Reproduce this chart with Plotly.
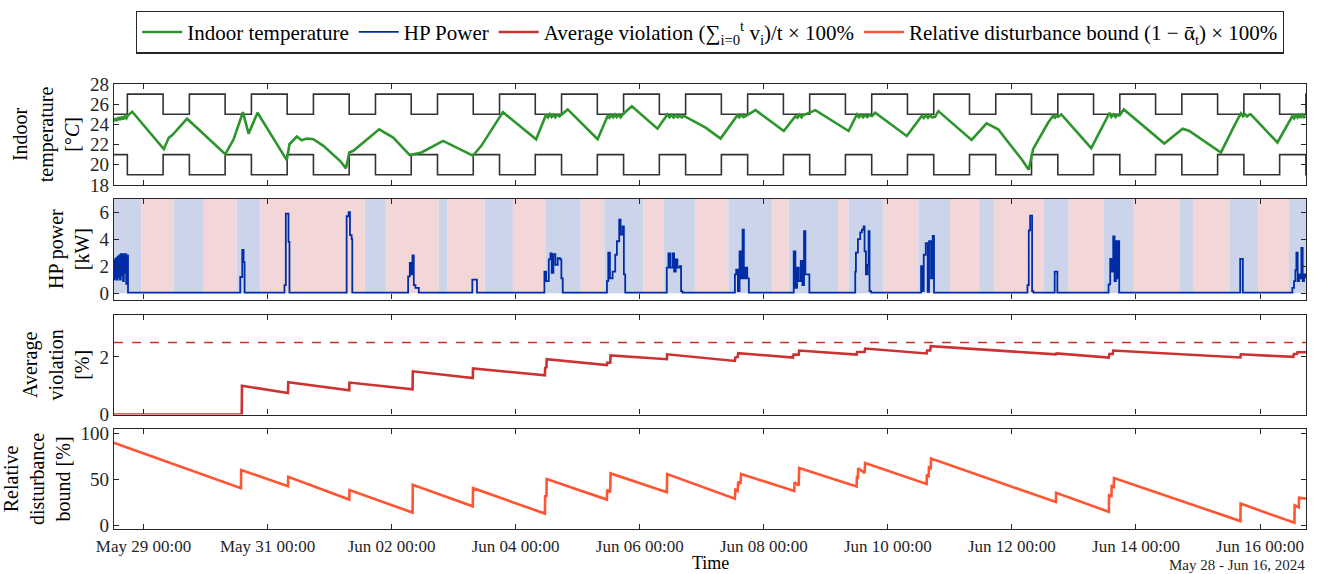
import pandas as pd
import plotly.graph_objects as go
from plotly.subplots import make_subplots

BASE = pd.Timestamp("2024-05-29 00:00")
X_START = "2024-05-28 12:35"
X_END = "2024-06-16 17:47"

# ---------------- Indoor temperature (hours since May 29 00:00, degC) -------------
temp_hours = [-11.4, -10.8, -10.2, -9.6, -9.0, -8.4, -7.8, -7.2, -6.6, -6.0, -4.36, 7.86, 9.79, 11.07, 16.86,
              31.65, 34.87, 38.47, 40.65, 44.12, 55.44, 56.47, 59.30, 61.23, 63.16, 65.73,
              69.59, 76.02, 78.34, 79.62, 81.17, 91.20, 96.60, 103.03, 107.54, 115.90,
              122.33, 127.47, 130.69, 139.05, 151.91, 155.77, 156.5, 157.2, 157.9, 158.6, 159.3,
              160.0, 160.9, 164.13, 175.70, 179.56, 180.3, 181.0, 181.7, 182.4, 183.1, 183.8,
              184.6, 185.35, 188.95, 198.86, 202.71, 203.5, 204.3, 205.1, 205.9, 206.7, 207.5,
              208.3, 209.0, 209.79, 217.5, 223.29, 229.72, 230.5, 231.3, 232.1, 232.94, 236.8,
              247.73, 252.23, 253.0, 253.8, 254.6, 255.3, 256.09, 259.95, 272.81, 276.03,
              276.8, 277.6, 278.4, 279.2, 280.0, 280.8, 281.82, 283.1, 295.32, 301.11, 301.9,
              302.7, 303.5, 304.3, 305.1, 306.25, 307.54, 320.40, 326.19, 330.69, 335.19,
              339.69, 342.52, 344.19, 349.98, 351.91, 352.6, 353.2, 353.84, 355.12, 366.70,
              370.56, 373.77, 374.5, 375.3, 376.1, 376.9, 377.63, 379.30, 394.95, 402.07,
              404.64, 416.86, 422.0, 424.58, 425.4, 426.2, 427.0, 427.7, 428.44, 438.72,
              444.51, 445.2, 445.9, 446.5, 447.08, 447.7, 448.3, 449.0, 449.65]
temp_values = [24.3, 24.6, 24.35, 24.7, 24.45, 24.75, 24.5, 24.8, 24.6, 24.9, 25.25, 21.54, 22.69, 22.92, 24.56,
               21.05, 22.52, 25.21, 23.08, 25.15, 20.46, 22.03, 22.79, 22.43, 22.59, 22.52,
               21.87, 20.39, 19.64, 21.21, 21.38, 23.51, 22.69, 20.95, 21.21, 22.36,
               21.54, 20.89, 21.87, 25.21, 22.52, 24.98, 24.7, 25.0, 24.72, 24.95, 24.7,
               24.95, 24.8, 25.48, 22.52, 24.82, 24.65, 24.95, 24.7, 24.98, 24.72, 24.95,
               24.7, 24.98, 25.80, 23.57, 24.98, 24.7, 24.92, 24.68, 24.9, 24.7, 24.88,
               24.68, 24.85, 24.75, 23.67, 22.59, 24.89, 24.7, 24.95, 24.72, 24.82, 25.41,
               23.34, 24.82, 24.65, 24.95, 24.7, 24.95, 24.98, 25.41, 23.34, 24.98,
               24.72, 24.95, 24.7, 24.92, 24.72, 24.9, 24.82, 25.15, 22.85, 24.82, 24.62,
               24.92, 24.65, 24.9, 24.7, 24.75, 25.31, 22.46, 24.10, 23.51, 22.03,
               20.56, 19.51, 21.54, 24.16, 24.82, 24.65, 24.9, 24.75, 24.98, 21.64,
               23.51, 25.15, 24.75, 24.98, 24.72, 24.95, 24.89, 25.48, 22.10, 23.57,
               23.34, 21.21, 23.84, 25.08, 24.8, 25.0, 24.78, 24.95, 24.98, 22.20,
               24.82, 24.6, 24.95, 24.68, 24.92, 24.65, 24.95, 24.7, 24.82]

# Comfort bounds schedule (wide band at night)
wide_start_time = "17:45"
wide_end_time = "07:35"
upper_narrow, upper_wide = 25, 27
lower_narrow, lower_wide = 21, 19

# ---------------- HP power (hours since May 29 00:00, kW) -------------
power_hours = [-11.4, -11.2, -10.9, -10.6, -10.3, -10.0, -9.7, -9.4, -9.1, -8.8, -8.5, -8.2, -7.9, -7.6, -7.3,
               -7.0, -6.7, -6.4, -6.1, -6.0,
               37.18, 37.44, 38.21, 38.72, 39.11,
               54.29, 54.54, 55.06, 55.57, 56.09, 56.47,
               78.34, 78.60, 79.37, 79.88, 80.53, 80.78,
               102.0, 102.39, 103.04, 103.42, 104.07, 104.58, 105.22, 105.99, 106.51,
               126.83, 127.22, 128.24, 129.02,
               154.74, 155.12, 155.77, 156.80, 157.44, 157.95, 158.59, 159.37, 160.27, 161.17, 161.68, 162.2,
               178.92, 179.31, 179.82, 180.46, 181.49, 182.52, 183.16, 184.06, 184.58, 185.35, 185.86, 186.38,
               202.07, 202.46, 203.1, 203.74, 204.64, 205.29, 205.93, 206.57, 207.47, 207.99, 208.5,
               228.43, 228.82, 229.33, 229.98, 230.62, 231.13, 231.78, 232.29, 232.94, 233.58, 234.22,
               251.2, 251.58, 252.23, 252.87, 253.51, 254.29, 254.93, 255.57, 256.09, 257.12, 257.63,
               275.0, 275.38, 275.64, 276.41, 277.31, 277.95, 278.6, 278.98, 279.5, 280.14, 280.53, 280.91, 281.55,
               300.46, 300.85, 301.36, 301.88, 302.65, 303.42, 303.93, 304.70, 305.35, 305.86,
               341.62, 342.01, 342.52, 343.04, 343.55, 343.81, 344.32,
               352.3, 352.55, 353.2, 353.58,
               373.13, 373.39, 374.03, 374.67, 375.19, 375.7, 376.22, 376.73, 377.25, 377.5,
               424.06, 424.32, 425.09, 425.35,
               444.13, 444.51, 445.16, 445.67, 446.06, 446.57, 447.08, 447.47, 447.99, 448.5, 449.02, 449.66]
power_values = [1.0, 2.5, 1.1, 2.6, 1.0, 2.7, 1.2, 2.8, 1.0, 2.9, 1.3, 2.9, 0.9, 2.9, 1.5,
                2.9, 0.7, 2.8, 2.8, 0.05,
                0.05, 1.2, 3.2, 2.3, 0.05,
                0.05, 0.6, 5.9, 5.9, 3.8, 0.05,
                0.05, 5.7, 6.0, 4.3, 4.0, 0.05,
                0.05, 1.25, 2.25, 1.4, 2.8, 0.6, 0.4, 0.4, 0.05,
                0.05, 1.0, 1.0, 0.05,
                0.05, 1.6, 0.9, 2.5, 2.95, 1.5, 2.9, 2.1, 2.6, 2.5, 1.1, 0.05,
                0.05, 0.9, 3.0, 1.1, 1.6, 2.85, 3.85, 5.45, 4.35, 4.95, 1.4, 0.05,
                0.05, 1.9, 2.95, 1.9, 2.95, 1.6, 2.5, 1.9, 2.0, 0.15, 0.05,
                0.05, 1.4, 1.75, 0.15, 3.1, 1.1, 4.7, 1.1, 1.9, 1.1, 0.05,
                0.05, 3.1, 0.4, 1.9, 0.9, 2.4, 0.6, 4.6, 1.4, 1.4, 0.05,
                0.05, 1.6, 3.0, 4.0, 4.5, 4.7, 4.95, 3.1, 1.4, 2.1, 4.6, 0.15, 0.05,
                0.05, 2.0, 0.15, 2.85, 3.7, 0.1, 3.85, 1.1, 4.25, 0.05,
                0.05, 0.6, 4.65, 5.75, 5.75, 0.15, 0.05,
                0.05, 1.6, 1.6, 0.05,
                0.05, 0.65, 2.55, 1.6, 4.2, 0.9, 3.85, 1.1, 3.85, 0.05,
                0.05, 2.55, 2.55, 0.05,
                0.05, 0.4, 0.9, 1.7, 3.0, 0.9, 1.4, 1.1, 3.35, 0.9, 1.4, 1.1]

# Background shading periods (boundaries, alternating starting with blue)
shade_bounds = ["2024-05-28 12:35", "2024-05-28 23:14", "2024-05-29 11:35", "2024-05-29 23:19",
                "2024-05-30 12:02", "2024-05-30 21:18", "2024-06-01 13:40", "2024-06-01 21:46",
                "2024-06-02 18:13", "2024-06-02 21:27", "2024-06-03 11:58", "2024-06-03 22:55",
                "2024-06-04 11:30", "2024-06-05 01:10", "2024-06-05 10:16", "2024-06-06 01:28",
                "2024-06-06 09:25", "2024-06-06 21:22", "2024-06-07 10:16", "2024-06-08 03:14",
                "2024-06-08 09:38", "2024-06-09 04:42", "2024-06-09 08:47", "2024-06-09 22:04",
                "2024-06-10 11:48", "2024-06-11 00:02", "2024-06-11 11:20", "2024-06-11 17:08",
                "2024-06-12 12:25", "2024-06-12 21:57", "2024-06-13 11:34", "2024-06-13 23:09",
                "2024-06-14 16:54", "2024-06-14 22:04", "2024-06-15 12:20", "2024-06-15 23:16",
                "2024-06-16 11:13", "2024-06-16 17:47"]
shade_colors = ["rgb(204,212,236)", "rgb(242,214,216)"]

# ---------------- Average violation (hours, %) -------------
viol_hours = [-11.5, 38.0, 38.1, 55.9, 56.0, 79.6, 79.7, 104.1, 104.2, 127.4, 127.5, 155.3, 155.4, 155.9, 156.0,
              179.3, 179.4, 180.6, 180.7, 202.5, 202.6, 228.8, 229.0, 229.9, 230.1, 251.3, 251.5, 253.5,
              253.7, 275.9, 276.1, 279.0, 279.2, 303.0, 303.2, 304.4, 304.6, 353.0, 353.2, 373.5, 373.7,
              375.0, 375.2, 424.4, 424.6, 444.9, 445.1, 446.3, 446.5, 449.8]
viol_values = [0.0, 0.0, 1.0, 0.75, 1.12, 0.84, 1.11, 0.88, 1.5, 1.27, 1.6, 1.36, 1.62, 1.64, 1.92,
               1.72, 1.8, 1.8, 2.05, 1.92, 2.09, 1.86, 1.98, 2.0, 2.13, 1.98, 2.08, 2.08,
               2.22, 2.08, 2.17, 2.17, 2.29, 2.12, 2.22, 2.22, 2.37, 2.09, 2.12, 1.98, 2.1,
               2.1, 2.22, 1.98, 2.09, 2.0, 2.1, 2.1, 2.16, 2.16]
viol_limit = 2.5

# ---------------- Relative disturbance bound (hours, %) -------------
dist_hours = [-11.5, 37.7, 37.8, 55.9, 56.0, 79.6, 79.7, 104.1, 104.2, 127.4, 127.5, 155.3, 155.4, 155.9, 156.0,
              179.3, 179.4, 180.6, 180.7, 202.5, 202.6, 228.8, 229.0, 229.9, 230.1, 231.0, 231.2,
              251.8, 251.9, 253.5, 253.7, 275.9, 276.0, 276.4, 276.5, 279.0, 279.2, 303.0, 303.1,
              303.8, 303.9, 304.6, 304.7, 353.0, 353.1, 373.5, 373.6, 374.5, 374.6, 375.4, 375.5,
              424.4, 424.5, 445.3, 445.4, 446.3, 446.4, 447.0, 447.1, 449.8]
dist_values = [89.9, 40.4, 60.1, 42.6, 52.8, 28.0, 38.4, 13.9, 44.0, 20.7, 40.4, 12.8, 32.6, 30.8, 50.4,
               28.0, 38.8, 35.9, 56.5, 36.1, 55.8, 28.9, 38.8, 37.5, 47.6, 45.1, 55.8,
               37.3, 46.9, 43.3, 62.4, 42.2, 52.2, 51.8, 62.1, 57.1, 67.8, 45.1, 54.1,
               53.4, 63.0, 62.3, 72.7, 25.4, 35.4, 14.7, 32.6, 31.8, 42.6, 41.8, 51.5,
               4.6, 23.6, 2.8, 21.8, 20.0, 20.0, 19.5, 30.1, 29.0]

# ---------------- Build ----------------
def to_time(hours):
    return BASE + pd.to_timedelta(pd.Series(hours, dtype=float), unit="h")

days = pd.date_range("2024-05-27", "2024-06-17", freq="D")
b_t, b_up, b_lo = [], [], []
for d in days:
    ds = d.strftime("%Y-%m-%d")
    t_end = pd.Timestamp(f"{ds} {wide_end_time}")
    t_start = pd.Timestamp(f"{ds} {wide_start_time}")
    b_t += [t_end, t_end, t_start, t_start]
    b_up += [upper_wide, upper_narrow, upper_narrow, upper_wide]
    b_lo += [lower_wide, lower_narrow, lower_narrow, lower_wide]

FONT = "Liberation Serif"
AX = "#262626"
GREEN = "rgb(44,150,44)"
BLUE = "rgb(0,45,165)"
RED = "rgb(204,50,50)"
ORANGE = "rgb(255,85,51)"

fig = make_subplots(rows=4, cols=1, shared_xaxes=True)

fig.add_trace(go.Scatter(x=b_t, y=b_up, mode="lines", line=dict(color="#333333", width=1.6),
                         showlegend=False, hoverinfo="skip"), row=1, col=1)
fig.add_trace(go.Scatter(x=b_t, y=b_lo, mode="lines", line=dict(color="#333333", width=1.6),
                         showlegend=False, hoverinfo="skip"), row=1, col=1)
fig.add_trace(go.Scatter(x=to_time(temp_hours), y=temp_values, mode="lines", name="Indoor temperature",
                         line=dict(color=GREEN, width=2.6)), row=1, col=1)
fig.add_trace(go.Scatter(x=to_time(power_hours), y=power_values, mode="lines", name="HP Power",
                         line=dict(color=BLUE, width=1.8, shape="hv")), row=2, col=1)
fig.add_trace(go.Scatter(x=to_time(viol_hours), y=viol_values, mode="lines",
                         name="Average violation (∑<sub>i=0</sub><sup>t</sup> v<sub>i</sub>)/t × 100%",
                         line=dict(color=RED, width=2.6)), row=3, col=1)
fig.add_trace(go.Scatter(x=[X_START, X_END], y=[viol_limit, viol_limit], mode="lines",
                         line=dict(color=RED, width=1.6, dash="dash"), showlegend=False), row=3, col=1)
fig.add_trace(go.Scatter(x=to_time(dist_hours), y=dist_values, mode="lines",
                         name="Relative disturbance bound (1 − ᾱ<sub>t</sub>) × 100%",
                         line=dict(color=ORANGE, width=2.6)), row=4, col=1)

for i in range(len(shade_bounds) - 1):
    fig.add_shape(type="rect", xref="x2", yref="y2", x0=shade_bounds[i], x1=shade_bounds[i + 1],
                  y0=0, y1=7, fillcolor=shade_colors[i % 2], line=dict(width=0), layer="below")

domains = [(0.7733, 1.0), (0.5156, 0.7422), (0.2571, 0.4807), (0.0, 0.2251)]
ytitles = ["Indoor<br>temperature<br>[°<i>C</i>]", "HP power<br>[kW]",
           "Average<br>violation<br>[%]", "Relative<br>disturbance<br>bound [%]"]
yranges = [[18, 28], [-0.47, 7], [0, 3.45], [-4, 105]]
ytickvals = [[18, 20, 22, 24, 26, 28], [0, 2, 4, 6], [0, 2], [0, 50, 100]]

for i in range(4):
    r = i + 1
    fig.update_yaxes(row=r, col=1, domain=domains[i], range=yranges[i], tickvals=ytickvals[i],
                     title=dict(text=ytitles[i], font=dict(size=20, family=FONT, color="black"), standoff=4),
                     showgrid=False, zeroline=False, showline=True, linecolor=AX, linewidth=1.4,
                     mirror="allticks", ticks="inside", ticklen=5, tickcolor=AX,
                     tickfont=dict(size=19, family=FONT, color="#262626"))
    fig.update_xaxes(row=r, col=1, range=[X_START, X_END], showgrid=False, zeroline=False,
                     showline=True, linecolor=AX, linewidth=1.4, mirror="allticks", ticks="inside",
                     ticklen=5, tickcolor=AX, dtick=2 * 86400000, tick0="2024-05-29 00:00",
                     tickformat="%b %d %H:%M", showticklabels=(r == 4),
                     tickfont=dict(size=17, family=FONT, color="#262626"), ticklabelstandoff=1)

fig.add_annotation(text="Time", xref="paper", yref="paper", x=0.5, y=-0.1, xanchor="center",
                   yanchor="bottom", showarrow=False, borderpad=0,
                   font=dict(size=18, family=FONT, color="black"))
fig.add_annotation(text="May 28 - Jun 16, 2024", xref="paper", yref="paper", x=1.0, y=-0.1,
                   xanchor="right", yanchor="bottom", showarrow=False, borderpad=0,
                   font=dict(size=15, family=FONT, color="#262626"))

fig.update_layout(
    width=1317, height=574, autosize=False,
    margin=dict(l=112, r=10, t=79, b=45),
    paper_bgcolor="white", plot_bgcolor="white",
    font=dict(family=FONT, color="black"),
    showlegend=True,
    legend=dict(orientation="h", x=0.5, xanchor="center", y=1.165, yanchor="top",
                bordercolor="#262626", borderwidth=1.2, bgcolor="white",
                font=dict(size=21, family=FONT, color="black"), itemwidth=40,
                tracegroupgap=0),
)

fig.write_html("out.html")
